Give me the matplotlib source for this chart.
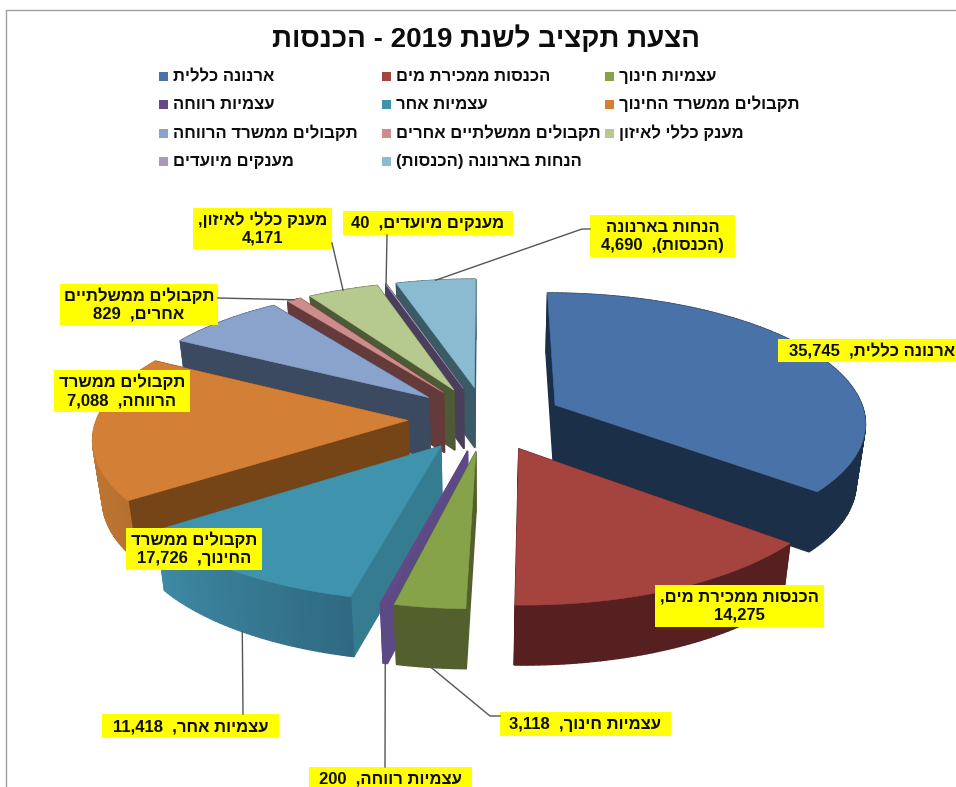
import re

import numpy as np
import matplotlib
matplotlib.use("Agg")
import matplotlib.pyplot as plt
from matplotlib.patches import Polygon, Rectangle

plt.rcParams["font.family"] = ["Liberation Sans", "DejaVu Sans"]

title = "הצעת תקציב לשנת 2019 - הכנסות"

categories = [
    "ארנונה כללית", "הכנסות ממכירת מים", "עצמיות חינוך", "עצמיות רווחה",
    "עצמיות אחר", "תקבולים ממשרד החינוך", "תקבולים ממשרד הרווחה",
    "תקבולים ממשלתיים אחרים", "מענק כללי לאיזון", "מענקים מיועדים",
    "הנחות בארנונה (הכנסות)",
]
values = [35745, 14275, 3118, 200, 11418, 17726, 7088, 829, 4171, 40, 4690]

top_colors = ["#4872A8", "#A5433F", "#87A34A", "#66488A", "#3F93AD", "#D47F36",
              "#8AA3CC", "#CF8C8C", "#B6C98F", "#A899BE", "#8ABBD0"]
side_colors = ["#1B2F49", "#55201F", "#535F2C", "#5C4A85", "#367C91", "#754417",
               "#3B4A60", "#643A3A", "#4D5A35", "#4A3F5A", "#3A5A66"]
rim_start = ["#1B2F49", "#55201F", "#535F2C", "#5C4A85", "#2F6A82", "#B87030",
             "#3B4A60", "#643A3A", "#4D5A35", "#4A3F5A", "#3A5A66"]
rim_end = ["#1B2F49", "#55201F", "#535F2C", "#5C4A85", "#3F8AA5", "#C8823A",
           "#3B4A60", "#643A3A", "#4D5A35", "#4A3F5A", "#3A5A66"]

# how each data label is broken into lines, box in pixels (x0, y0, x1, y1)
label_lines = [
    ["ארנונה כללית,  {}"],
    ["הכנסות ממכירת מים,", "{}"],
    ["עצמיות חינוך,  {}"],
    ["עצמיות רווחה,  {}"],
    ["עצמיות אחר,  {}"],
    ["תקבולים ממשרד", "החינוך,  {}"],
    ["תקבולים ממשרד", "הרווחה,  {}"],
    ["תקבולים ממשלתיים", "אחרים,  {}"],
    ["מענק כללי לאיזון,", "{}"],
    ["מענקים מיועדים,  {}"],
    ["הנחות בארנונה", "(הכנסות),  {}"],
]
label_boxes = [
    (778, 339, 960, 362), (655, 585, 824, 627), (500, 712, 671, 736),
    (309, 767, 472, 790), (102, 714, 279, 738), (126, 528, 262, 570),
    (54, 370, 190, 412), (60, 284, 218, 325), (193, 208, 332, 249),
    (343, 211, 513, 235), (590, 215, 735, 257),
]
# leader lines: wedge index, depth of the anchor on the rim, points to the label
leaders = {
    2: (1, [(490, 716), (500, 716)]),
    3: (1, [(385, 767)]),
    4: (1, [(243, 714)]),
    7: (0, [(218, 298)]),
    8: (0, [(332, 243)]),
    9: (0, [(387, 235)]),
    10: (0, [(582, 229), (590, 229)]),
}

CX, CY = 485.6, 418.6
A, B = 129.0, 311.0
K = 0.123
WALL, SHRINK = 60.0, 0.025
EXPLODE = 0.25
TEXT_COLOR = "#0D0D0D"


def visual(text):
    """Hebrew logical order to display order, matplotlib does no bidi"""
    flipped = text[::-1].translate(str.maketrans("()", ")("))
    return re.sub(r"[\d][\d,]*", lambda m: m.group(0)[::-1], flipped)


def project(x, y, z=0.0):
    w = 1 + K * y
    return CX + B * x / w * (1 - SHRINK * z), CY - A * y / w + WALL * z


def wedge_point(ex, ey, theta, z=0.0):
    return project(ex + np.sin(theta), ey + np.cos(theta), z)


def blend(c0, c1, t):
    a = np.array(matplotlib.colors.to_rgb(c0))
    b = np.array(matplotlib.colors.to_rgb(c1))
    return tuple(a + (b - a) * t)


def draw_wedge(ax, i, t0, t1):
    mid = (t0 + t1) / 2
    ex, ey = EXPLODE * np.sin(mid), EXPLODE * np.cos(mid)
    thetas = np.linspace(t0, t1, max(3, int(np.degrees(t1 - t0)) + 2))
    apex_top = project(ex, ey)
    apex_low = project(ex, ey, 1)

    faces = []
    for t in (t0, t1):
        quad = [apex_top, wedge_point(ex, ey, t), wedge_point(ex, ey, t, 1), apex_low]
        faces.append((ey + np.cos(t) / 2, quad, side_colors[i]))
    for a, b in zip(thetas[:-1], thetas[1:]):
        quad = [wedge_point(ex, ey, a), wedge_point(ex, ey, b),
                wedge_point(ex, ey, b, 1), wedge_point(ex, ey, a, 1)]
        frac = ((a + b) / 2 - t0) / (t1 - t0)
        faces.append((ey + np.cos((a + b) / 2), quad, blend(rim_start[i], rim_end[i], frac)))
    for _, quad, color in sorted(faces, key=lambda f: -f[0]):
        # wide edge so no seams show between the strips
        ax.add_patch(Polygon(quad, closed=True, facecolor=color, edgecolor=color, lw=1.0))

    top = [apex_top] + [wedge_point(ex, ey, t) for t in thetas]
    ax.add_patch(Polygon(top, closed=True, facecolor=top_colors[i],
                         edgecolor=top_colors[i], lw=0.4))


fig = plt.figure(figsize=(9.56, 7.87), dpi=100, facecolor="white")
ax = fig.add_axes([0, 0, 1, 1])
ax.set_xlim(0, 956)
ax.set_ylim(787, 0)
ax.axis("off")

# chart frame
ax.plot([6, 6, 956], [787, 10, 10], color="#A0A0A0", lw=1)

ax.text(486, 47, visual(title), ha="center", va="baseline", fontsize=20,
        fontweight="bold", color=TEXT_COLOR)

# legend, three columns filled row by row
legend_x = [159, 382, 605]
legend_y = [76, 104, 133, 161]
for i, name in enumerate(categories):
    lx = legend_x[i % 3]
    ly = legend_y[i // 3]
    ax.add_patch(Rectangle((lx, ly - 4.5), 9, 9, facecolor=top_colors[i], edgecolor="none"))
    ax.text(lx + 14, ly + 5, visual(name), ha="left", va="baseline", fontsize=12,
            fontweight="bold", color=TEXT_COLOR)

# wedges clockwise from twelve o'clock, far ones first
edges = np.concatenate([[0], np.cumsum(values)]) / sum(values) * 2 * np.pi
order = sorted(range(len(values)), key=lambda n: -np.cos((edges[n] + edges[n + 1]) / 2))
for i in order:
    draw_wedge(ax, i, edges[i], edges[i + 1])

# leader lines then yellow data labels
for i, (depth, points) in leaders.items():
    mid = (edges[i] + edges[i + 1]) / 2
    start = wedge_point(EXPLODE * np.sin(mid), EXPLODE * np.cos(mid), mid, depth)
    xs, ys = zip(*([start] + points))
    ax.plot(xs, ys, color="#555555", lw=1)

for i, value in enumerate(values):
    x0, y0, x1, y1 = label_boxes[i]
    ax.add_patch(Rectangle((x0, y0), x1 - x0, y1 - y0, facecolor="#FFFF00", edgecolor="none"))
    lines = label_lines[i]
    for n, line in enumerate(lines):
        ty = (y0 + y1) / 2 + (n - (len(lines) - 1) / 2) * 18 + 5
        text = visual(line.format(f"{value:,}"))
        if i == 0:
            ax.text(x0 + 11, ty, text, ha="left", va="baseline", fontsize=12,
                    fontweight="bold", color=TEXT_COLOR)
        else:
            ax.text((x0 + x1) / 2, ty, text, ha="center", va="baseline", fontsize=12,
                    fontweight="bold", color=TEXT_COLOR)

fig.savefig("out.png", dpi=100)
